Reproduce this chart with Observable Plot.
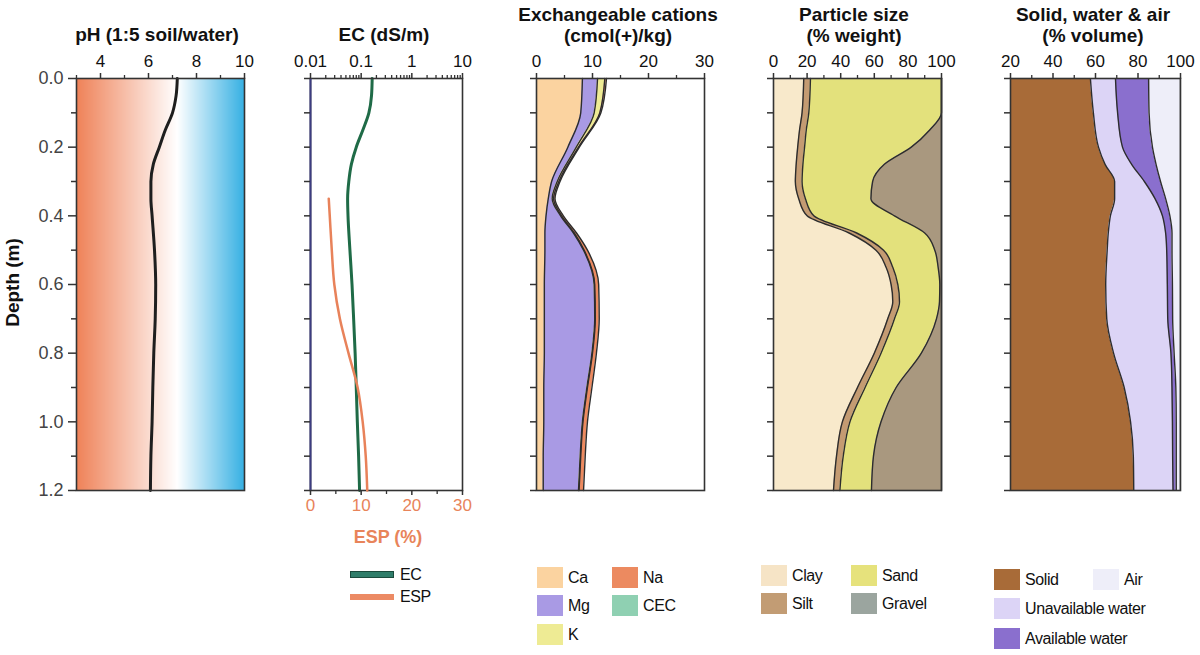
<!DOCTYPE html>
<html><head><meta charset="utf-8">
<script src="https://cdn.jsdelivr.net/npm/d3@7"></script>
<script src="https://cdn.jsdelivr.net/npm/@observablehq/plot@0.6"></script>
<style>
body{margin:0;background:#fff;font-family:"Liberation Sans",Arial,Helvetica,sans-serif;}
#root{position:relative;width:1200px;height:655px;overflow:hidden;background:#fff;}
.t{position:absolute;font-weight:bold;font-size:19px;line-height:21px;text-align:center;color:#111;white-space:nowrap;transform:translateX(-50%);}
.leg{position:absolute;font-size:16px;letter-spacing:-0.4px;color:#111;white-space:nowrap;line-height:18px;}
.sw{position:absolute;width:26px;height:21px;}
</style></head><body><div id="root"></div>
<script>
// ---------------- data ----------------
const depthMajorTicks = [0, 0.2, 0.4, 0.6, 0.8, 1.0, 1.2];
const depthMinorTicks = [0.1, 0.3, 0.5, 0.7, 0.9, 1.1];
const depthAllTicks = [0, 0.1, 0.2, 0.3, 0.4, 0.5, 0.6, 0.7, 0.8, 0.9, 1.0, 1.1, 1.2];

// pH
const pHDepth = [0, 0.05, 0.1, 0.15, 0.2, 0.25, 0.3, 0.35, 0.4, 0.5, 0.6, 0.7, 0.8, 0.9, 1.0, 1.1, 1.2];
const pHValue = [7.2, 7.15, 7.0, 6.7, 6.45, 6.2, 6.1, 6.1, 6.15, 6.25, 6.3, 6.28, 6.22, 6.18, 6.15, 6.1, 6.08];
const pHTicks = [4, 6, 8, 10];
const pHMinorTicks = [3, 5, 7, 9];

// EC and ESP
const ecDepth = [0, 0.05, 0.1, 0.15, 0.2, 0.25, 0.3, 0.35, 0.4, 0.5, 0.6, 0.7, 0.8, 0.9, 1.0, 1.1, 1.2];
const ecValue = [0.165, 0.16, 0.142, 0.108, 0.08, 0.064, 0.057, 0.054, 0.055, 0.06, 0.066, 0.071, 0.076, 0.08, 0.084, 0.089, 0.093];
const espDepth = [0.35, 0.4, 0.5, 0.6, 0.7, 0.8, 0.9, 1.0, 1.1, 1.2];
const espValue = [3.6, 3.8, 4.2, 4.7, 5.8, 7.5, 9.3, 10.3, 10.9, 11.2];
const ecTicks = [0.01, 0.1, 1, 10];
const ecMinorTicks = [0.02,0.03,0.04,0.05,0.06,0.07,0.08,0.09,0.2,0.3,0.4,0.5,0.6,0.7,0.8,0.9,2,3,4,5,6,7,8,9];
const espTicks = [0, 10, 20, 30];
const espMinorTicks = [5, 15, 25];

// Exchangeable cations (cmol(+)/kg)
const catDepth = [0, 0.1, 0.2, 0.3, 0.35, 0.4, 0.45, 0.5, 0.6, 0.7, 0.8, 0.9, 1.0, 1.1, 1.2];
const catLayers = ["Ca", "Mg", "K", "Na"];
const caValue = [8.2, 7.9, 5.6, 2.7, 2.1, 1.7, 1.5, 1.5, 1.4, 1.4, 1.4, 1.3, 1.3, 1.2, 1.2];
const mgValue = [2.7, 2.4, 1.5, 1.0, 0.7, 2.6, 5.1, 6.9, 8.9, 9.0, 8.5, 7.7, 6.9, 6.6, 6.3];
const kValue  = [1.3, 1.0, 0.4, 0.3, 0.25, 0.2, 0.15, 0.1, 0.1, 0.1, 0.1, 0.1, 0.1, 0.1, 0.1];
const naValue = [0.3, 0.2, 0.15, 0.2, 0.25, 0.3, 0.4, 0.6, 0.7, 0.7, 0.7, 0.8, 0.8, 0.8, 0.8];
const catTicks = [0, 10, 20, 30];
const catMinorTicks = [5, 15, 25];
const catLegend = ["Ca", "Na", "Mg", "CEC", "K"];
const catColors = {Ca: "#fbd3a0", Mg: "#a99ae4", K: "#eeeb94", Na: "#ec8a60", CEC: "#8fd0b2"};

// Particle size (% weight)
const psDepth = [0, 0.1, 0.15, 0.2, 0.25, 0.3, 0.35, 0.4, 0.45, 0.5, 0.55, 0.6, 0.65, 0.7, 0.8, 0.9, 1.0, 1.1, 1.2];
const psLayers = ["Clay", "Silt", "Sand", "Gravel"];
const clayValue   = [18, 17, 15.5, 14.4, 13.5, 13, 15, 20, 45, 61, 67, 70, 71, 68, 60, 50, 41, 37.5, 35.7];
const siltValue   = [4, 4, 4, 4.1, 4, 4, 4, 4, 4.5, 4.5, 4, 4, 4, 4, 4, 4.5, 4.5, 4, 3.8];
const sandValue   = [78, 79, 73.5, 63.5, 48.5, 42, 39, 48, 40.5, 30.5, 27, 25, 23.8, 25, 24, 18.5, 18.5, 18, 18.8];
const gravelValue = [0, 0, 7, 18, 34, 41, 42, 28, 10, 4, 2, 1, 1.2, 3, 12, 27, 36, 40.5, 41.7];
const psTicks = [0, 20, 40, 60, 80, 100];
const psMinorTicks = [10, 30, 50, 70, 90];
const psColors = {Clay: "#f8e9cb", Silt: "#c49b72", Sand: "#e3e17c", Gravel: "#a9987f"};
const psLegendColors = {Clay: "#f6e4c6", Silt: "#c29c74", Sand: "#e6e27c", Gravel: "#9ba59f"};

// Solid, water & air (% volume)
const swDepth = [0, 0.1, 0.2, 0.25, 0.3, 0.35, 0.4, 0.45, 0.5, 0.6, 0.7, 0.8, 0.9, 1.0, 1.1, 1.2];
const swLayers = ["Solid", "Unavailable water", "Available water", "Air"];
const solidValue   = [57.6, 59, 61.4, 64.5, 69, 69, 67, 66, 65.5, 64.8, 65.3, 68.5, 73.5, 76.5, 77.8, 78];
const unavailValue = [11.8, 11.4, 11.3, 12.5, 14, 19, 24.5, 27, 28, 29, 28.7, 27, 22.5, 19.7, 18.5, 18.5];
const availValue   = [15.6, 14.8, 14.1, 11.5, 7.6, 5, 3.5, 3, 2.5, 2.4, 2.3, 1.5, 1.8, 1.8, 1.7, 1.5];
const airValue     = [15, 14.8, 13.2, 11.5, 9.4, 7, 5, 4, 4, 3.8, 3.7, 3, 2.2, 2, 2, 2];
const swTicks = [20, 40, 60, 80, 100];
const swMinorTicks = [30, 50, 70, 90];
const swColors = {"Solid": "#a86b38", "Unavailable water": "#dcd4f6", "Available water": "#8a6fce", "Air": "#eeeef9"};

// ---------------- helpers ----------------
const root = document.getElementById("root");
const FONT = "'Liberation Sans', Arial, Helvetica, sans-serif";
const TOP = 78, BOT = 490, H = 530;
const curve = "monotone-y";

function longData(depths, layers, arrays) {
  const out = [];
  depths.forEach((d, i) => layers.forEach((l, j) => out.push({depth: d, layer: l, value: arrays[j][i]})));
  return out;
}

function place(svg, left) {
  const div = document.createElement("div");
  div.style.cssText = `position:absolute;top:0;left:${left}px;`;
  div.appendChild(svg);
  root.appendChild(div);
}

function panel(plotLeft, plotWidth, mLeft, x, marks, extra = {}, yAxis = undefined) {
  const svg = Plot.plot({
    width: mLeft + plotWidth + 20, height: H,
    marginLeft: mLeft, marginRight: 20, marginTop: TOP, marginBottom: H - BOT,
    x, y: {domain: [0, 1.2], reverse: true, axis: yAxis},
    style: {fontFamily: FONT, fontSize: "17px", color: "#222", background: "transparent", overflow: "visible"},
    marks, ...extra
  });
  place(svg, plotLeft - mLeft);
}

const leftTicks = () => Plot.axisY({ticks: depthAllTicks, tickSize: 6, tickFormat: () => "", stroke: "#333", strokeWidth: 1.5, label: null});
const topAxis = (ticks, minor, fmt) => [
  Plot.axisX({anchor: "top", ticks, tickSize: 6, tickPadding: 6, tickFormat: fmt, stroke: "#333", strokeWidth: 1.5, fill: "#111", label: null}),
  Plot.axisX({anchor: "top", ticks: minor, tickSize: 4, tickFormat: () => "", stroke: "#333", strokeWidth: 1.3, label: null})
];
const frame = () => Plot.frame({stroke: "#333", strokeWidth: 1.6});

function stackPanel(depths, layers, arrays, colors, clip) {
  const data = longData(depths, layers, arrays);
  return [
    Plot.areaX(data, Plot.stackX({x: "value", y: "depth", z: "layer", fill: "layer", order: layers, curve, clip})),
    Plot.lineX(data, Plot.stackX2({x: "value", y: "depth", z: "layer", order: layers, curve, stroke: "#2d2d2d", strokeWidth: 1.4, clip}))
  ];
}

// ---------------- Panel 1: pH ----------------
const pHData = pHDepth.map((d, i) => ({depth: d, pH: pHValue[i]}));
panel(76, 168, 76, {domain: [3, 10]}, [
  Plot.raster({x1: 3, x2: 10, y1: 0, y2: 1.2, width: 168, height: 2, fill: (x, y) => x}),
  Plot.lineX(pHData, {x: "pH", y: "depth", curve, stroke: "#1e1e1e", strokeWidth: 3}),
  frame(),
  ...topAxis(pHTicks, pHMinorTicks, d => String(d)),
  Plot.axisY({ticks: depthMajorTicks, tickSize: 8, tickPadding: 5, tickFormat: d => d.toFixed(1), fontSize: 18, fill: "#444", stroke: "#333", strokeWidth: 1.5, label: null}),
  Plot.axisY({ticks: depthMinorTicks, tickSize: 5, tickFormat: () => "", stroke: "#333", strokeWidth: 1.5, label: null})
], {color: {type: "linear", domain: [3, 7.2, 10], range: ["#ef8258", "#ffffff", "#36b0e3"], interpolate: "rgb"}});

// ---------------- Panel 2: EC / ESP ----------------
const ecData = ecDepth.map((d, i) => ({depth: d, ec: ecValue[i]}));
const espData = espDepth.map((d, i) => ({depth: d, esp: espValue[i]}));
panel(310, 152, 30, {type: "log", domain: [0.01, 10]}, [
  Plot.lineX(ecData, {x: "ec", y: "depth", curve, stroke: "#1f6b47", strokeWidth: 3}),
  frame(),
  Plot.ruleX([0.01], {stroke: "#3d3d80", strokeWidth: 2}),
  ...topAxis(ecTicks, ecMinorTicks, d => String(d)),
  leftTicks()
]);
panel(310, 152, 30, {domain: [0, 30]}, [
  Plot.lineX(espData, {x: "esp", y: "depth", curve, stroke: "#e8825a", strokeWidth: 2.5}),
  Plot.axisX({anchor: "bottom", ticks: espTicks, tickSize: 5, tickPadding: 3, stroke: "#333", strokeWidth: 1.5, fill: "#e8845a", label: null}),
  Plot.axisX({anchor: "bottom", ticks: espMinorTicks, tickSize: 4, tickFormat: () => "", stroke: "#333", strokeWidth: 1.3, label: null})
], {}, null);

// ---------------- Panel 3: Exchangeable cations ----------------
panel(536, 168, 30, {domain: [0, 30]}, [
  ...stackPanel(catDepth, catLayers, [caValue, mgValue, kValue, naValue], catColors, false),
  frame(),
  ...topAxis(catTicks, catMinorTicks, d => String(d)),
  leftTicks()
], {color: {domain: catLayers, range: catLayers.map(l => catColors[l])}});

// ---------------- Panel 4: Particle size ----------------
panel(773, 168, 30, {domain: [0, 100]}, [
  ...stackPanel(psDepth, psLayers, [clayValue, siltValue, sandValue, gravelValue], psColors, false),
  frame(),
  ...topAxis(psTicks, psMinorTicks, d => String(d)),
  leftTicks()
], {color: {domain: psLayers, range: psLayers.map(l => psColors[l])}});

// ---------------- Panel 5: Solid, water & air ----------------
panel(1010, 170, 30, {domain: [20, 100]}, [
  ...stackPanel(swDepth, swLayers, [solidValue, unavailValue, availValue, airValue], swColors, true),
  frame(),
  ...topAxis(swTicks, swMinorTicks, d => String(d)),
  leftTicks()
], {color: {domain: swLayers, range: swLayers.map(l => swColors[l])}});

// ---------------- Titles & labels ----------------
function text(cls, html, x, y, extraCss = "") {
  const d = document.createElement("div");
  d.className = cls; d.innerHTML = html;
  d.style.cssText = `left:${x}px;top:${y}px;${extraCss}`;
  root.appendChild(d);
  return d;
}
text("t", "pH (1:5 soil/water)", 157, 24);
text("t", "EC (dS/m)", 384, 24);
text("t", "Exchangeable cations<br>(cmol(+)/kg)", 618, 4);
text("t", "Particle size<br>(% weight)", 854, 4);
text("t", "Solid, water &amp; air<br>(% volume)", 1093, 4);
text("t", "ESP (%)", 388, 527, "color:#e8845a;font-size:18px;");
text("t", "Depth (m)", 12, 272, "transform:translateX(-50%) rotate(-90deg);");

// ---------------- Legends ----------------
function swatch(x, y, color, w = 26, h = 21, css = "") {
  const d = document.createElement("div");
  d.className = "sw";
  d.style.cssText = `left:${x}px;top:${y}px;width:${w}px;height:${h}px;background:${color};${css}`;
  root.appendChild(d);
}
function label(x, yCenter, s) { text("leg", s, x, yCenter - 9); }

// EC / ESP
swatch(350, 571, "#2f7d6a", 44, 7, "border:1px solid #1b4a3c;box-sizing:border-box;");
label(400, 575, "EC");
swatch(350, 594, "#ec8a64", 44, 6);
label(400, 597, "ESP");

// cations
const catPos = {Ca: [537, 567], Na: [612, 567], Mg: [537, 595], CEC: [612, 595], K: [537, 624]};
catLegend.forEach(l => { const [x, y] = catPos[l]; swatch(x, y, catColors[l]); label(x + 31, y + 11, l); });

// particle size
const psPos = {Clay: [761, 565], Sand: [851, 565], Silt: [761, 593], Gravel: [851, 593]};
psLayers.forEach(l => { const [x, y] = psPos[l]; swatch(x, y, psLegendColors[l]); label(x + 31, y + 11, l); });

// solid, water & air
const swPos = {"Solid": [994, 569], "Air": [1093, 569], "Unavailable water": [994, 598], "Available water": [994, 628]};
swLayers.forEach(l => { const [x, y] = swPos[l]; swatch(x, y, swColors[l]); label(x + 31, y + 11, l); });
</script>
</body></html>
